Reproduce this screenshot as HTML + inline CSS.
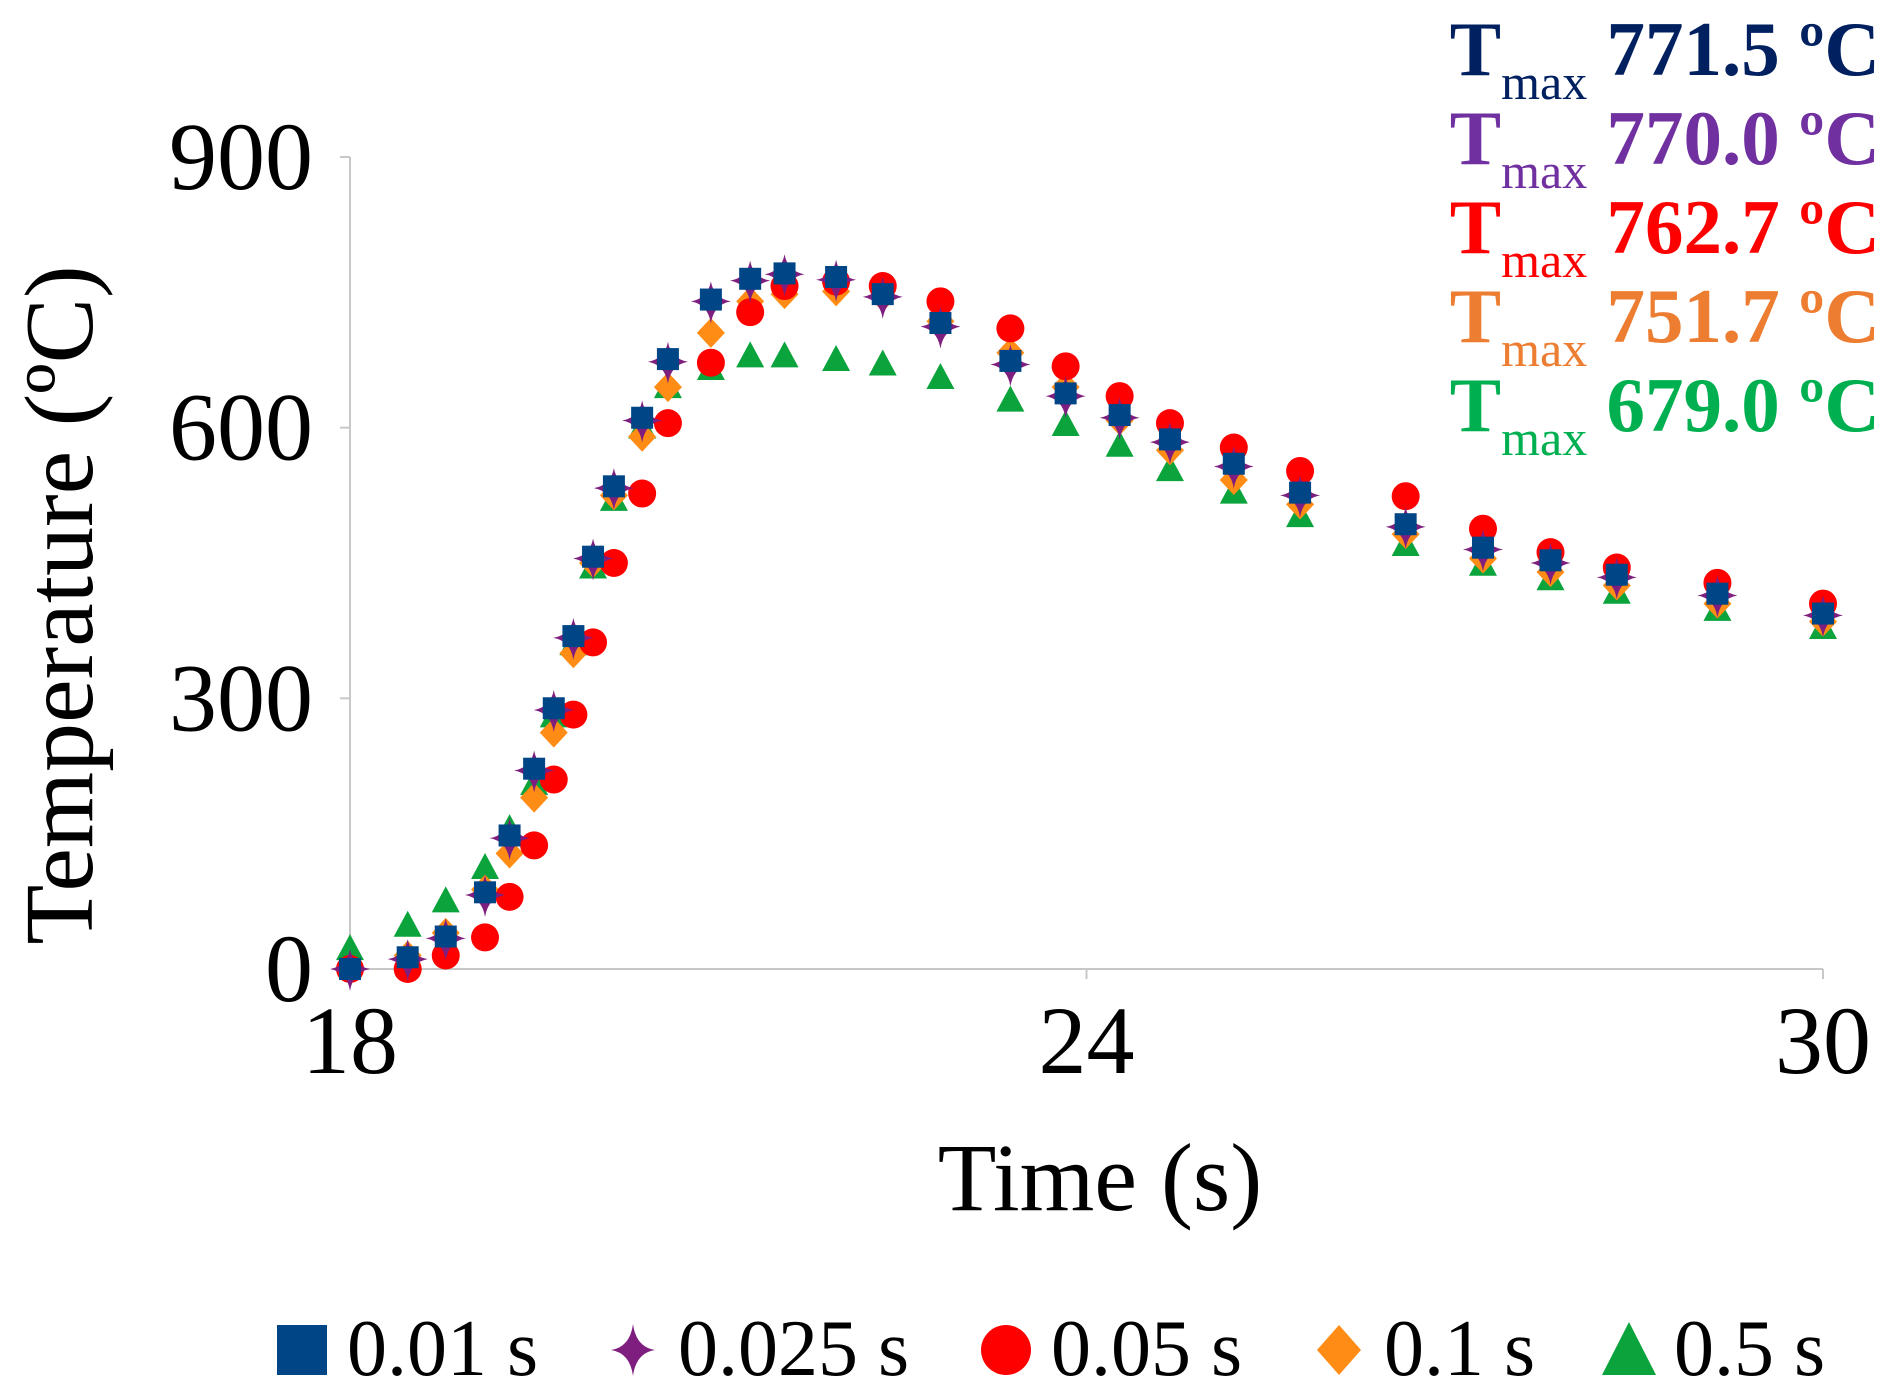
<!DOCTYPE html>
<html><head><meta charset="utf-8"><style>
html,body{margin:0;padding:0;background:#fff;}
svg{display:block;font-family:"Liberation Serif",serif;}
</style></head><body>
<svg id="chart" width="1899" height="1399" viewBox="0 0 1899 1399" xmlns="http://www.w3.org/2000/svg">
<g id="axes"></g>
<g id="marks"></g>
<g font-size="77" text-anchor="end" font-weight="bold">
<text x="1880" y="75" fill="#002060">T<tspan font-size="50" font-weight="normal" dy="24">max</tspan><tspan dy="-24"> 771.5 ºC</tspan></text>
<text x="1880" y="164" fill="#7030a0">T<tspan font-size="50" font-weight="normal" dy="24">max</tspan><tspan dy="-24"> 770.0 ºC</tspan></text>
<text x="1880" y="253" fill="#ff0000">T<tspan font-size="50" font-weight="normal" dy="24">max</tspan><tspan dy="-24"> 762.7 ºC</tspan></text>
<text x="1880" y="342" fill="#ed7d31">T<tspan font-size="50" font-weight="normal" dy="24">max</tspan><tspan dy="-24"> 751.7 ºC</tspan></text>
<text x="1880" y="431" fill="#00b050">T<tspan font-size="50" font-weight="normal" dy="24">max</tspan><tspan dy="-24"> 679.0 ºC</tspan></text>
</g>
<text x="1100" y="1210" font-size="96" text-anchor="middle">Time (s)</text>
<text transform="translate(92,605) rotate(-90)" font-size="98" text-anchor="middle">Temperature (ºC)</text>
<g id="legend" font-size="80"></g>
</svg>
<script>
const times = [18,18.47,18.78,19.10,19.30,19.50,19.66,19.82,19.98,20.15,20.38,20.59,20.94,21.26,21.54,21.96,22.34,22.81,23.38,23.83,24.27,24.68,25.20,25.74,26.60,27.23,27.78,28.32,29.14,30];
const s001 = [0,13,36,85,148,222,289,369,457,535,611,676,742,765,771,767,748,716,674,638,614,587,560,528,493,467,453,437,416,394];
const s0025 = [0,11,34,82,145,220,287,367,455,533,608,673,740,763,770,764,745,712,670,635,611,584,557,525,490,465,450,434,414,392];
const s005 = [0,0,15,35,80,137,210,282,362,450,527,605,672,728,757,762,757,740,710,668,635,605,578,552,524,488,462,445,428,405];
const s01 = [0,15,40,88,128,190,262,350,450,525,590,645,705,740,748,751,745,718,683,645,608,575,542,515,482,455,440,425,405,385];
const s05 = [22,48,75,112,155,205,280,360,445,520,600,645,665,679,679,675,670,655,630,603,580,553,528,502,470,448,432,417,398,378];
const xTicks = [18,24,30];
const yTicks = [0,300,600,900];
const seriesNames = ["0.01 s","0.025 s","0.05 s","0.1 s","0.5 s"];

const NS="http://www.w3.org/2000/svg";
const X0=350,X1=1823,Y0=969,Y1=157;
function xs(t){return X0+(t-18)/12*(X1-X0);}
function ys(v){return Y0-v/900*(Y0-Y1);}
function mk(tag,attrs,parent){const e=document.createElementNS(NS,tag);for(const k in attrs)e.setAttribute(k,attrs[k]);parent.appendChild(e);return e;}

const axes=document.getElementById('axes');
let l=mk('line',{x1:X0,y1:Y1,x2:X0,y2:Y0+2,stroke:'#c8c8c8','stroke-width':2},axes);


l=mk('line',{x1:X0-8,y1:Y0,x2:X1,y2:Y0,stroke:'#c8c8c8','stroke-width':2},axes);


yTicks.forEach(v=>{
  const t=mk('line',{x1:X0-10,y1:ys(v),x2:X0,y2:ys(v),stroke:'#c8c8c8','stroke-width':2},axes);
  
  
  const tx=mk('text',{x:X0-37,y:ys(v)+32,'font-size':96,'text-anchor':'end'},axes);
  tx.textContent=v;
  
  
});
xTicks.forEach(v=>{
  const t=mk('line',{x1:xs(v),y1:Y0,x2:xs(v),y2:Y0+10,stroke:'#c8c8c8','stroke-width':2},axes);
  
  
  const tx=mk('text',{x:xs(v),y:1073,'font-size':96,'text-anchor':'middle'},axes);
  tx.textContent=v;
  
  
});

function marker(kind,x,y,parent){
  let e;
  if(kind==='square') e=mk('rect',{x:x-11,y:y-11,width:22,height:22,fill:'#004586'},parent);
  else if(kind==='star') e=mk('path',{d:`M${x} ${y-20} Q${x+3} ${y-3} ${x+20} ${y} Q${x+3} ${y+3} ${x} ${y+22} Q${x-3} ${y+3} ${x-20} ${y} Q${x-3} ${y-3} ${x} ${y-20}Z`,fill:'#7e1e7e'},parent);
  else if(kind==='circle') e=mk('ellipse',{cx:x,cy:y,rx:14,ry:14,fill:'#ff0000'},parent);
  else if(kind==='diamond') e=mk('path',{d:`M${x} ${y-15} L${x+14} ${y} L${x} ${y+15} L${x-14} ${y}Z`,fill:'#ff8c14'},parent);
  else e=mk('path',{d:`M${x} ${y-15} L${x+14} ${y+11} L${x-14} ${y+11}Z`,fill:'#0aa33c'},parent);
  return e;
}
const marks=document.getElementById('marks');
const order=[[s05,'triangle','series-0.5s'],[s01,'diamond','series-0.1s'],[s005,'circle','series-0.05s'],[s0025,'star','series-0.025s'],[s001,'square','series-0.01s']];
order.forEach(([vals,kind,name])=>{
  const g=mk('g',{},marks);
  
  
  vals.forEach((v,i)=>{
    const m=marker(kind,xs(times[i]),ys(v),g);
    
    
  });
});

const legend=document.getElementById('legend');
const kinds=['square','star','circle','diamond','triangle'];
const lx=[302,633,1006,1339,1629];
seriesNames.forEach((n,i)=>{
  const g=mk('g',{},legend);
  
  
  let m;
  if(kinds[i]==='square') m=mk('rect',{x:lx[i]-25,y:1325,width:50,height:50,fill:'#004586'},g);
  else if(kinds[i]==='star'){const x=lx[i],y=1350;m=mk('path',{d:`M${x} ${y-26} Q${x+3} ${y-3} ${x+22} ${y} Q${x+3} ${y+3} ${x} ${y+26} Q${x-3} ${y+3} ${x-22} ${y} Q${x-3} ${y-3} ${x} ${y-26}Z`,fill:'#7e1e7e'},g);}
  else if(kinds[i]==='circle') m=mk('ellipse',{cx:lx[i],cy:1350,rx:25,ry:25,fill:'#ff0000'},g);
  else if(kinds[i]==='diamond') m=mk('path',{d:`M${lx[i]} 1325 L${lx[i]+22} 1350 L${lx[i]} 1375 L${lx[i]-22} 1350Z`,fill:'#ff8c14'},g);
  else m=mk('path',{d:`M${lx[i]} 1322 L${lx[i]+27} 1375 L${lx[i]-27} 1375Z`,fill:'#0aa33c'},g);
  
  
  const t=mk('text',{x:lx[i]+45,y:1375},g);
  t.textContent=n;
  
  
});
</script>
</body></html>
